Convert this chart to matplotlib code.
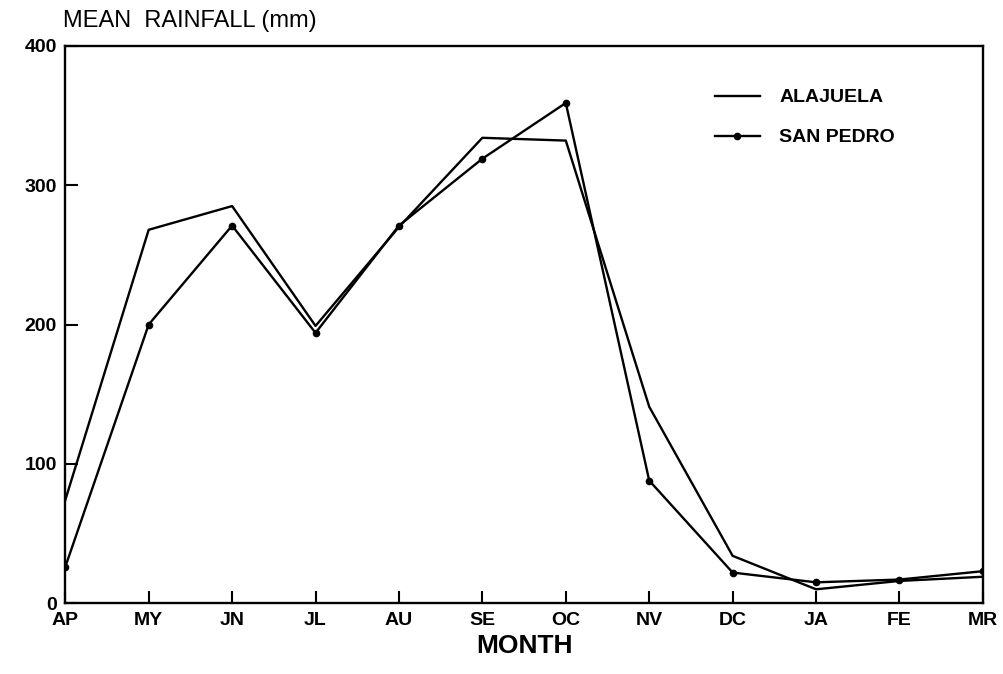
import matplotlib.pyplot as plt

months = ["AP", "MY", "JN", "JL", "AU", "SE", "OC", "NV", "DC", "JA", "FE", "MR"]
alajuela = [74, 268, 285, 199, 270, 334, 332, 141, 34, 10, 16, 19]
san_pedro = [26, 200, 271, 194, 271, 319, 359, 88, 22, 15, 17, 23]

plt.rcParams['font.family'] = ['Liberation Sans', 'DejaVu Sans']

fig = plt.figure(figsize=(10.04, 6.74), dpi=100)
ax = fig.add_axes([0.065, 0.105, 0.914, 0.827])

x = list(range(len(months)))
ax.plot(x, alajuela, color='black', lw=1.7, label="ALAJUELA")
ax.plot(x, san_pedro, color='black', lw=1.7, marker='o', ms=4.5,
    label="SAN PEDRO")

ax.set_xlim(0, len(months) - 1)
ax.set_ylim(0, 400)
ax.set_xticks(x)
ax.set_xticklabels(months, fontsize=14, fontweight='bold')
ax.set_yticks([0, 100, 200, 300, 400])
ax.set_yticklabels(["0", "100", "200", "300", "400"], fontsize=14,
    fontweight='bold')
ax.tick_params(axis='both', direction='in', length=9, width=1.5, pad=6)
for s in ax.spines.values():
    s.set_linewidth(1.7)

ax.set_xlabel("MONTH", fontsize=19, fontweight='bold', labelpad=4)
fig.text(0.063, 0.952, "MEAN  RAINFALL (mm)", fontsize=17, ha='left',
    va='bottom')

leg = ax.legend(frameon=False, loc='upper left', bbox_to_anchor=(0.708, 0.923),
    fontsize=14, handlelength=2.3, handletextpad=1.0, labelspacing=1.15,
    borderpad=0, borderaxespad=0)
for t in leg.get_texts():
    t.set_fontweight('bold')

fig.savefig("out.png", dpi=100)
